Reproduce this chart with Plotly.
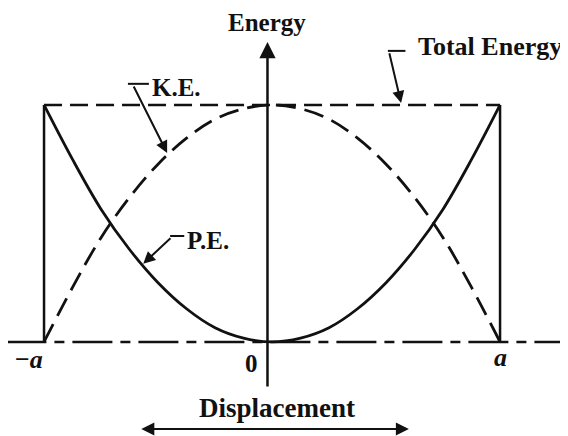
import plotly.graph_objects as go

# ---- data (a = 1, total energy E = 1) ----
displacement = [-1.0, -0.875, -0.75, -0.625, -0.5, -0.375, -0.25, -0.125, 0.0,
                0.125, 0.25, 0.375, 0.5, 0.625, 0.75, 0.875, 1.0]
potential_energy = [1.0, 0.77, 0.56, 0.39, 0.25, 0.14, 0.06, 0.016, 0.0,
                    0.016, 0.06, 0.14, 0.25, 0.39, 0.56, 0.77, 1.0]
kinetic_energy = [0.0, 0.23, 0.44, 0.61, 0.75, 0.86, 0.94, 0.984, 1.0,
                  0.984, 0.94, 0.86, 0.75, 0.61, 0.44, 0.23, 0.0]
amplitude = [-1.0, 1.0]
total_energy = [1.0, 1.0]
tick_labels = ["\u2212<i>a</i>", "0", "<i>a</i>"]

FONT = "Liberation Serif"
BLACK = "#111111"

fig = go.Figure()

# displacement axis (dash-dot)
fig.add_trace(go.Scatter(x=[-1.165, 1.32], y=[0, 0], mode="lines",
                         line=dict(color=BLACK, width=2.5, dash="40px,8px,10px,8px"),
                         hoverinfo="skip"))
# vertical boundary lines at -a and a
for xa in amplitude:
    fig.add_trace(go.Scatter(x=[xa, xa], y=[0, total_energy[0]], mode="lines",
                             line=dict(color=BLACK, width=2.5), hoverinfo="skip"))
# total energy (dashed)
fig.add_trace(go.Scatter(x=amplitude, y=total_energy, mode="lines",
                         line=dict(color=BLACK, width=2.5, dash="18px,8px"),
                         hoverinfo="skip"))
# potential energy (solid)
fig.add_trace(go.Scatter(x=displacement, y=potential_energy, mode="lines",
                         line=dict(color=BLACK, width=2.8, shape="spline"),
                         hoverinfo="skip"))
# kinetic energy (dashed)
fig.add_trace(go.Scatter(x=displacement, y=kinetic_energy, mode="lines",
                         line=dict(color=BLACK, width=2.8, dash="20px,9px", shape="spline"),
                         hoverinfo="skip"))

ann = []
# vertical energy axis with arrow
ann.append(dict(x=-0.02, y=1.266, ax=-0.02, ay=-0.194, xref="x", yref="y", axref="x", ayref="y",
                showarrow=True, arrowhead=2, arrowsize=1.3, arrowwidth=2.5,
                arrowcolor=BLACK, text=""))
# displacement double arrow
ann.append(dict(x=0.60, y=-0.367, ax=-0.58, ay=-0.367, xref="x", yref="y", axref="x", ayref="y",
                showarrow=True, arrowhead=2, startarrowhead=2, arrowside="end+start",
                arrowsize=1.3, startarrowsize=1.3, arrowwidth=2, arrowcolor=BLACK, text=""))
# leader arrows
leaders = [
    (-0.46, 0.797, -0.61, 1.084),   # K.E.
    (0.566, 1.008, 0.513, 1.224),   # Total Energy
    (-0.565, 0.33, -0.439, 0.443),  # P.E.
]
for (x, y, ax_, ay_) in leaders:
    ann.append(dict(x=x, y=y, ax=ax_, ay=ay_, xref="x", yref="y", axref="x", ayref="y",
                    showarrow=True, arrowhead=2, arrowsize=1.2, arrowwidth=2,
                    arrowcolor=BLACK, text=""))

def label(text, x, y, size, xanchor="center", yanchor="middle"):
    return dict(x=x, y=y, xref="x", yref="y", text=text, showarrow=False,
                xanchor=xanchor, yanchor=yanchor,
                font=dict(family=FONT, size=size, color=BLACK))

ann.append(label("<b>Energy</b>", -0.02, 1.346, 25))
ann.append(label("<b>Total Energy</b>", 0.63, 1.245, 26, xanchor="left"))
ann.append(label("<b>K.E.</b>", -0.535, 1.072, 25, xanchor="left"))
ann.append(label("<b>P.E.</b>", -0.38, 0.426, 25, xanchor="left"))
ann.append(label("<b>Displacement</b>", 0.02, -0.278, 27))
ann.append(label("<b>" + tick_labels[0] + "</b>", -1.066, -0.075, 26))
ann.append(label("<b>" + tick_labels[1] + "</b>", -0.088, -0.089, 25))
ann.append(label("<b>" + tick_labels[2] + "</b>", 1.0, -0.065, 26))

shapes = [
    # small hooks of the leader lines
    dict(type="line", xref="x", yref="y", x0=-0.632, x1=-0.54, y0=1.089, y1=1.089,
         line=dict(color=BLACK, width=2)),
    dict(type="line", xref="x", yref="y", x0=0.508, x1=0.585, y0=1.228, y1=1.228,
         line=dict(color=BLACK, width=2)),
    dict(type="line", xref="x", yref="y", x0=-0.447, x1=-0.385, y0=0.447, y1=0.447,
         line=dict(color=BLACK, width=2)),
]

fig.update_layout(
    width=560, height=428,
    margin=dict(l=0, r=0, t=0, b=0),
    paper_bgcolor="white", plot_bgcolor="white",
    showlegend=False,
    xaxis=dict(range=[-1.158, 1.298], visible=False, fixedrange=True),
    yaxis=dict(range=[-0.397, 1.409], visible=False, fixedrange=True),
    annotations=ann, shapes=shapes,
)

fig.write_html("out.html")
